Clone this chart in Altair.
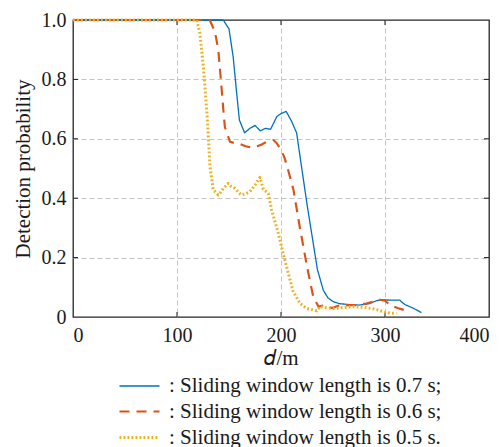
import altair as alt
import pandas as pd

# ---- data ----
labels = [": Sliding window length is 0.7 s;",
          ": Sliding window length is 0.6 s;",
          ": Sliding window length is 0.5 s."]

d07 = [0, 144.5, 150, 154, 157.4, 160, 165, 170, 175, 180, 185, 190, 196, 200, 205,
       210, 215, 220, 225, 230, 235, 240.7, 245, 250, 256, 265, 275, 285, 292, 296,
       305, 314, 319, 327, 335]
p07 = [1.0, 1.0, 0.97, 0.876, 0.753, 0.663, 0.62, 0.635, 0.645, 0.627, 0.635, 0.632,
       0.675, 0.685, 0.692, 0.66, 0.62, 0.50, 0.38, 0.27, 0.16, 0.09, 0.065, 0.052,
       0.045, 0.042, 0.04, 0.045, 0.055, 0.058, 0.057, 0.057, 0.042, 0.03, 0.015]

d06 = [0, 131.5, 136.5, 139.7, 143, 144.5, 146, 151, 156, 161, 166, 172, 177, 181,
       186, 192.6, 196, 199, 203, 206, 212, 218, 225, 231, 236, 242, 249, 257, 265,
       273, 282, 289, 295, 300, 305, 312, 318, 324]
p06 = [1.0, 1.0, 0.96, 0.90, 0.764, 0.70, 0.64, 0.59, 0.585, 0.582, 0.575, 0.57,
       0.575, 0.58, 0.59, 0.596, 0.585, 0.568, 0.54, 0.506, 0.428, 0.304, 0.17, 0.068,
       0.035, 0.04, 0.03, 0.04, 0.04, 0.04, 0.045, 0.052, 0.058, 0.055, 0.04, 0.03,
       0.024, 0.012]

d05 = [0, 119, 122, 125.3, 128.5, 130, 131.7, 134.9, 139.7, 142, 144.5, 149.3, 152,
       155.8, 159, 162, 166, 170, 175, 179.8, 183, 187.8, 191, 197.4, 202, 207, 211.8,
       218.3, 224.7, 234.3, 237.5, 242, 250, 260, 270, 280, 286, 292, 298, 305, 311]
p05 = [1.0, 1.0, 0.956, 0.843, 0.70, 0.618, 0.506, 0.428, 0.411, 0.42, 0.433, 0.45,
       0.44, 0.433, 0.42, 0.411, 0.415, 0.422, 0.444, 0.47, 0.43, 0.416, 0.36, 0.282,
       0.214, 0.147, 0.085, 0.046, 0.029, 0.021, 0.035, 0.032, 0.028, 0.032, 0.035,
       0.032, 0.029, 0.025, 0.018, 0.013, 0.012]

x_ticks = [0, 100, 200, 300, 400]
y_ticks = [0, 0.2, 0.4, 0.6, 0.8, 1.0]

rows = []
for lab, ds, ps in zip(labels, [d07, d06, d05], [p07, p06, p05]):
    for i, (a, b) in enumerate(zip(ds, ps)):
        rows.append({"series": lab, "d": a, "p": b, "order": i})
df = pd.DataFrame(rows)

W, H = 416, 297
FONT = "Liberation Serif"
TXT = "#1a1a1a"

grid_op_x = alt.condition("datum.value == 0 || datum.value == 400", alt.value(0), alt.value(1))
grid_op_y = alt.condition("datum.value == 0 || datum.value == 1", alt.value(0), alt.value(1))

xscale = alt.Scale(domain=[0, 400], nice=False, zero=False)
yscale = alt.Scale(domain=[0, 1], nice=False)
axis_common = dict(grid=True, gridColor="#c4c4c4", gridDash=[5, 3], gridWidth=1,
                   domain=False, ticks=False,
                   labelFont=FONT, labelFontSize=20, labelColor=TXT,
                   titleFont=FONT, titleFontSize=21, titleFontWeight="normal",
                   titleColor=TXT)
xaxis = alt.Axis(title="𝑑/m", values=x_ticks, format="d", labelPadding=8, titlePadding=2,
                 gridOpacity=grid_op_x, **axis_common)
yaxis = alt.Axis(title="Detection probability", values=y_ticks, labelPadding=7,
                 titlePadding=8, gridOpacity=grid_op_y,
                 labelExpr="datum.value == 0 ? '0' : format(datum.value, '.1f')",
                 **axis_common)

legend = alt.Legend(title=None, orient="none", legendX=55, legendY=355,
                    symbolType="M-2,0H2", symbolSize=400,
                    labelFont=FONT, labelFontSize=21, labelColor=TXT, labelOffset=18,
                    rowPadding=4, labelLimit=0, padding=0)

lines = alt.Chart(df).mark_line(strokeCap="butt", strokeJoin="round").encode(
    x=alt.X("d:Q", scale=xscale, axis=xaxis),
    y=alt.Y("p:Q", scale=yscale, axis=yaxis),
    order="order:Q",
    color=alt.Color("series:N", legend=legend,
                    scale=alt.Scale(domain=labels, range=["#0072BD", "#D95319", "#EDB120"])),
    strokeDash=alt.StrokeDash("series:N", legend=legend,
                              scale=alt.Scale(domain=labels, range=[[1, 0], [10, 7], [1.8, 2.2]])),
    strokeWidth=alt.StrokeWidth("series:N", legend=legend,
                                scale=alt.Scale(domain=labels, range=[1.3, 3, 2.2])),
)

tickdf_x = pd.DataFrame({"xt": x_ticks[1:-1]})
tickdf_y = pd.DataFrame({"yt": y_ticks[1:-1]})
tx_bot = alt.Chart(tickdf_x).mark_rule(color=TXT, strokeWidth=1).encode(
    x=alt.X("xt:Q", scale=xscale, axis=xaxis), y=alt.value(H - 5), y2=alt.value(H))
tx_top = alt.Chart(tickdf_x).mark_rule(color=TXT, strokeWidth=1).encode(
    x=alt.X("xt:Q", scale=xscale, axis=xaxis), y=alt.value(0), y2=alt.value(5))
ty_l = alt.Chart(tickdf_y).mark_rule(color=TXT, strokeWidth=1).encode(
    y=alt.Y("yt:Q", scale=yscale, axis=yaxis), x=alt.value(0), x2=alt.value(5))
ty_r = alt.Chart(tickdf_y).mark_rule(color=TXT, strokeWidth=1).encode(
    y=alt.Y("yt:Q", scale=yscale, axis=yaxis), x=alt.value(W - 5), x2=alt.value(W))

chart = alt.layer(tx_bot, tx_top, ty_l, ty_r, lines).properties(
    width=W, height=H,
    background="white",
    autosize=alt.AutoSizeParams(type="none"),
    padding={"left": 73, "top": 20, "right": 15, "bottom": 130},
).configure(font=FONT).configure_view(
    stroke="#262626", strokeWidth=1.3, fill="white"
)

chart.save("out.html", embed_options={"renderer": "svg", "actions": False})
